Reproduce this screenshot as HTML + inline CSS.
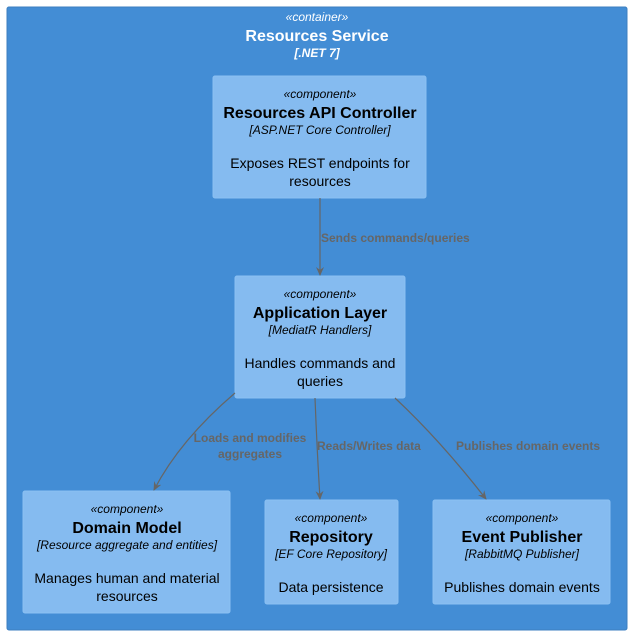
<!DOCTYPE html>
<html><head><style>body{margin:0;background:#fff}svg{display:block}</style></head><body>
<svg width="632" height="635" xmlns="http://www.w3.org/2000/svg" font-family="'Liberation Sans',sans-serif">
<defs><marker id="a" markerWidth="10" markerHeight="10" refX="8" refY="4" orient="auto" markerUnits="userSpaceOnUse"><path d="M0,0 L9,4 L0,8 L3,4 z" fill="#666"/></marker></defs>
<rect x="7" y="7" width="620" height="623" rx="2" fill="#438DD5" stroke="#3C7FC0"/>
<g fill="#fff" text-anchor="middle">
<text x="317" y="21" font-size="12" font-style="italic">«container»</text>
<text x="317" y="41" font-size="16" font-weight="bold">Resources Service</text>
<text x="317" y="57" font-size="12" font-style="italic" font-weight="bold">[.NET 7]</text>
</g>
<g fill="#85BBF0" stroke="#8BC0F2">
<rect x="213" y="76" width="213" height="122" rx="2"/>
<rect x="235" y="276" width="170" height="122" rx="2"/>
<rect x="23" y="491" width="207" height="122" rx="2"/>
<rect x="265" y="500" width="133" height="104" rx="2"/>
<rect x="433" y="500" width="177" height="104" rx="2"/>
</g>
<g fill="#000" text-anchor="middle">
<text x="320" y="98" font-size="12" font-style="italic">«component»</text>
<text x="320" y="118" font-size="16" font-weight="bold">Resources API Controller</text>
<text x="320" y="134" font-size="12" font-style="italic">[ASP.NET Core Controller]</text>
<text x="320" y="168" font-size="14">Exposes REST endpoints for</text>
<text x="320" y="186" font-size="14">resources</text>

<text x="320" y="298" font-size="12" font-style="italic">«component»</text>
<text x="320" y="318" font-size="16" font-weight="bold">Application Layer</text>
<text x="320" y="334" font-size="12" font-style="italic">[MediatR Handlers]</text>
<text x="320" y="368" font-size="14">Handles commands and</text>
<text x="320" y="386" font-size="14">queries</text>

<text x="127" y="513" font-size="12" font-style="italic">«component»</text>
<text x="127" y="533" font-size="16" font-weight="bold">Domain Model</text>
<text x="127" y="549" font-size="12" font-style="italic">[Resource aggregate and entities]</text>
<text x="127" y="583" font-size="14">Manages human and material</text>
<text x="127" y="601" font-size="14">resources</text>

<text x="331" y="522" font-size="12" font-style="italic">«component»</text>
<text x="331" y="542" font-size="16" font-weight="bold">Repository</text>
<text x="331" y="558" font-size="12" font-style="italic">[EF Core Repository]</text>
<text x="331" y="592" font-size="14">Data persistence</text>

<text x="522" y="522" font-size="12" font-style="italic">«component»</text>
<text x="522" y="542" font-size="16" font-weight="bold">Event Publisher</text>
<text x="522" y="558" font-size="12" font-style="italic">[RabbitMQ Publisher]</text>
<text x="522" y="592" font-size="14">Publishes domain events</text>
</g>
<g stroke="#666" stroke-width="1.2" fill="none" marker-end="url(#a)">
<path d="M320,198 L320,275"/>
<path d="M235,393 Q180,440 154,490"/>
<path d="M315,398 Q317,450 320,499"/>
<path d="M395,398 Q440,440 486,499"/>
</g>
<g fill="#666" font-size="12" font-weight="bold">
<text x="321" y="242">Sends commands/queries</text>
<text x="250" y="442" text-anchor="middle">Loads and modifies</text>
<text x="250" y="458" text-anchor="middle">aggregates</text>
<text x="317" y="450">Reads/Writes data</text>
<text x="456" y="450">Publishes domain events</text>
</g>
</svg>
</body></html>
